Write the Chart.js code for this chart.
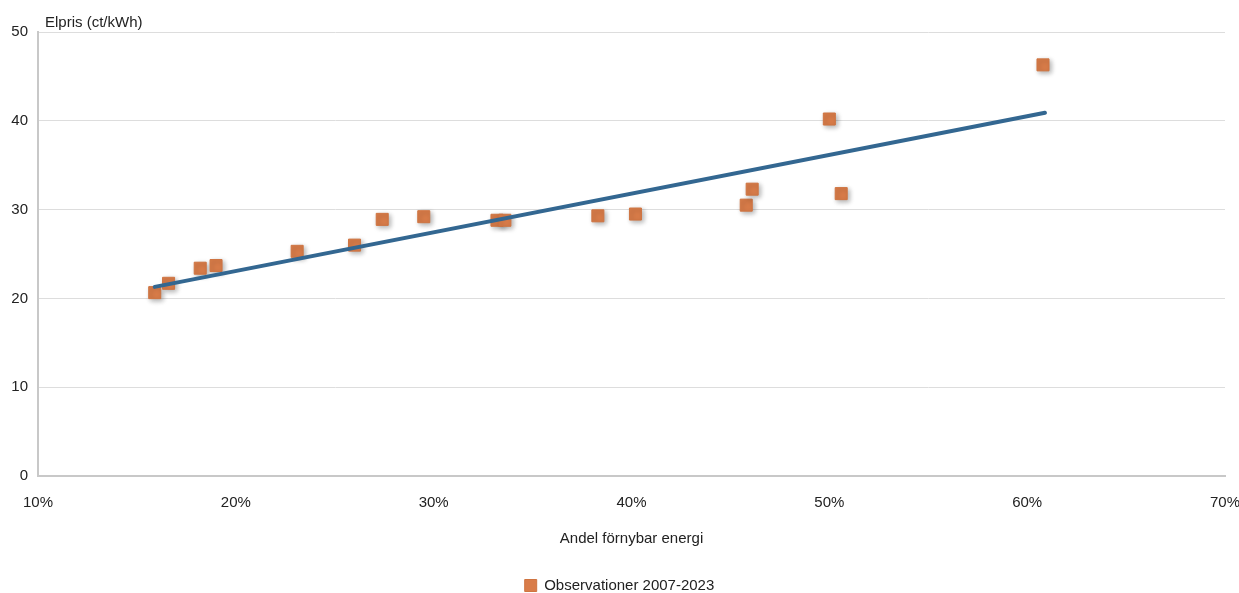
<!DOCTYPE html>
<html>
<head>
<meta charset="utf-8">
<script src="https://cdn.jsdelivr.net/npm/chart.js@4"></script>
<style>
  html, body { margin: 0; padding: 0; background: #fff; }
  #wrap { width: 1239px; height: 593px; }
</style>
</head>
<body>
<div id="wrap"><canvas id="elpris-chart" width="1239" height="593"></canvas></div>
<script>
// andel förnybar energi (%) och elpris (ct/kWh), 2007-2023
const andelFornybar = [15.9, 16.6, 18.2, 19.0, 23.1, 26.0, 27.4, 29.5, 33.2, 33.6, 38.3, 40.2, 45.8, 46.1, 50.0, 50.6, 60.8];
const elpris = [20.65, 21.7, 23.4, 23.7, 25.3, 26.0, 28.9, 29.2, 28.8, 28.8, 29.3, 29.5, 30.5, 32.3, 40.2, 31.8, 46.3];

// trendlinje, start- och slutpunkt
const trendX = [15.9, 60.9];
const trendY = [21.3, 40.9];

const xTicks = [10, 20, 30, 40, 50, 60, 70];
const yTicks = [0, 10, 20, 30, 40, 50];

const serieNamn = 'Observationer 2007-2023';
const yTitel = 'Elpris (ct/kWh)';
const xTitel = 'Andel förnybar energi';

const font = "'Liberation Sans', Arial, sans-serif";

// skugga under punkterna
const skugga = {
    id: 'skugga',
    beforeDatasetDraw(chart, args) {
        if (args.index !== 1) return;
        const ctx = chart.ctx;
        ctx.save();
        ctx.shadowColor = 'rgba(0,0,0,0.3)';
        ctx.shadowBlur = 5;
        ctx.shadowOffsetX = 2;
        ctx.shadowOffsetY = 2;
    },
    afterDatasetDraw(chart, args) {
        if (args.index !== 1) return;
        chart.ctx.restore();
    }
};

// axeltitel uppe till vänster
const yRubrik = {
    id: 'yRubrik',
    afterDraw(chart) {
        const ctx = chart.ctx;
        ctx.save();
        ctx.font = '15px ' + font;
        ctx.fillStyle = '#222';
        ctx.textBaseline = 'bottom';
        ctx.fillText(yTitel, chart.chartArea.left + 7, chart.chartArea.top - 2);
        ctx.restore();
    }
};

const ctx = document.getElementById('elpris-chart').getContext('2d');
new Chart(ctx, {
    type: 'scatter',
    data: {
        datasets: [{
            type: 'line',
            label: 'Trend',
            data: trendX.map((x, i) => ({ x: x, y: trendY[i] })),
            borderColor: '#336791',
            borderWidth: 4,
            borderCapStyle: 'round',
            pointRadius: 0,
            fill: false
        }, {
            label: serieNamn,
            data: andelFornybar.map((x, i) => ({ x: x, y: elpris[i] })),
            pointStyle: 'rect',
            pointRadius: 8.5,
            backgroundColor: '#d97c49',
            borderColor: '#cf7441',
            borderWidth: 1
        }]
    },
    options: {
        responsive: false,
        animation: false,
        layout: { padding: { top: 32, right: 0, left: 0, bottom: -10 } },
        plugins: {
            tooltip: { enabled: false },
            legend: {
                position: 'bottom',
                labels: {
                    filter: item => item.text === serieNamn,
                    usePointStyle: false,
                    boxWidth: 12,
                    boxHeight: 12,
                    color: '#222',
                    font: { family: font, size: 15 },
                    padding: 10
                }
            }
        },
        scales: {
            x: {
                type: 'linear',
                min: 10,
                max: 70,
                afterBuildTicks: s => { s.ticks = xTicks.map(v => ({ value: v })); },
                afterFit: s => {
                    s.height = 92;
                    s.paddingRight = 14;
                    s.paddingLeft = 0;
                },
                ticks: {
                    callback: v => v + '%',
                    color: '#222',
                    font: { family: font, size: 15 },
                    padding: 18,
                    maxRotation: 0
                },
                grid: { display: false, drawTicks: false },
                border: { color: '#c8c8c8', width: 2 },
                title: {
                    display: true,
                    text: xTitel,
                    color: '#222',
                    font: { family: font, size: 15 },
                    padding: { top: 20, bottom: 20 }
                }
            },
            y: {
                min: 0,
                max: 50,
                afterBuildTicks: s => { s.ticks = yTicks.map(v => ({ value: v })); },
                afterFit: s => { s.width = 38; },
                ticks: {
                    color: '#222',
                    font: { family: font, size: 15 },
                    padding: 10
                },
                grid: { color: '#dddddd', lineWidth: 1, drawTicks: false },
                border: { color: '#c8c8c8', width: 2 }
            }
        }
    },
    plugins: [skugga, yRubrik]
});
</script>
</body>
</html>
